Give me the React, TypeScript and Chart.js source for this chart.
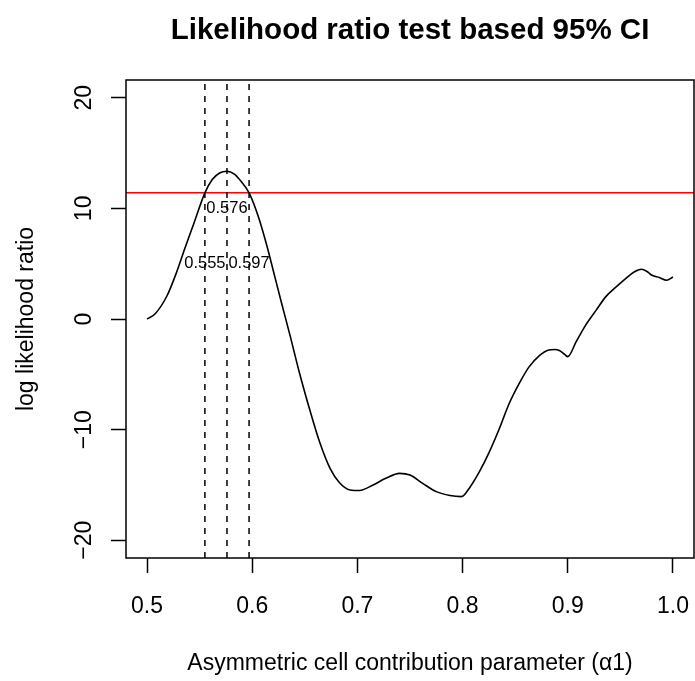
import React, { useEffect, useRef } from "react";
import { Chart, registerables } from "chart.js";

Chart.register(...registerables);

const FONT = '"Liberation Sans", Arial, Helvetica, sans-serif';

// Profile of the log likelihood ratio over alpha1
const alphaValues = [
  0.5, 0.508, 0.519, 0.528, 0.536, 0.544, 0.555, 0.562, 0.569, 0.576, 0.583, 0.588,
  0.597, 0.606, 0.614, 0.621, 0.628, 0.636, 0.645, 0.655, 0.664, 0.674, 0.683, 0.693,
  0.702, 0.715, 0.727, 0.74, 0.75, 0.762, 0.775, 0.788, 0.799, 0.807, 0.816, 0.825,
  0.835, 0.844, 0.854, 0.863, 0.873, 0.882, 0.888, 0.892, 0.897, 0.9, 0.908, 0.917,
  0.927, 0.936, 0.946, 0.955, 0.963, 0.97, 0.976, 0.98, 0.987, 0.994, 1.0,
];
const llrValues = [
  0.0, 0.5, 2.1, 4.2, 6.4, 8.5, 11.4, 12.6, 13.2, 13.35, 13.1, 12.6,
  11.4, 9.2, 6.6, 4.0, 1.4, -1.5, -4.9, -8.3, -11.1, -13.5, -14.8, -15.45,
  -15.5, -15.0, -14.4, -13.95, -14.1, -14.85, -15.6, -15.95, -16.05, -15.2, -13.8, -12.1,
  -9.9, -7.7, -5.8, -4.35, -3.3, -2.8, -2.75, -2.85, -3.2, -3.4, -2.05, -0.55,
  0.8, 2.0, 2.9, 3.65, 4.25, 4.5, 4.25, 3.95, 3.75, 3.5, 3.8,
];

const ciBounds = [0.555, 0.576, 0.597];
const ciLabels = ["0.555", "0.576", "0.597"];
const ciLabelY = [5, 10, 5];
const cutoff = 11.41;

const xTicks = [0.5, 0.6, 0.7, 0.8, 0.9, 1.0];
const yTicks = [-20, -10, 0, 10, 20];
const xRange = [0.48, 1.02];
const yRange = [-21.6, 21.6];

const titleText = "Likelihood ratio test based 95% CI";
const xTitle = "Asymmetric cell contribution parameter (\u03b11)";
const yTitle = "log likelihood ratio";

const ciTextPlugin = {
  id: "ciText",
  afterDatasetsDraw(chart: any) {
    const { ctx, scales } = chart;
    ctx.save();
    ctx.font = `16.5px ${FONT}`;
    ctx.fillStyle = "#000";
    ctx.textAlign = "center";
    ctx.textBaseline = "middle";
    ciBounds.forEach((v, i) => {
      ctx.fillText(ciLabels[i], scales.x.getPixelForValue(v), scales.y.getPixelForValue(ciLabelY[i]));
    });
    ctx.restore();
  },
};

const boxPlugin = {
  id: "plotBox",
  afterDraw(chart: any) {
    const { ctx, chartArea: a } = chart;
    ctx.save();
    ctx.strokeStyle = "#000";
    ctx.lineWidth = 1.5;
    ctx.strokeRect(a.left, a.top, a.right - a.left, a.bottom - a.top);
    ctx.restore();
  },
};

export default function App() {
  const ref = useRef<HTMLCanvasElement | null>(null);

  useEffect(() => {
    document.documentElement.style.overflow = "hidden";
    document.body.style.overflow = "hidden";
    document.body.style.margin = "0";
    if (!ref.current) return;
    const curve = alphaValues.map((x, i) => ({ x, y: llrValues[i] }));
    const vLines = ciBounds.map((b) => ({
      type: "scatter" as const,
      data: [
        { x: b, y: yRange[0] },
        { x: b, y: yRange[1] },
      ],
      showLine: true,
      borderColor: "#000",
      borderWidth: 1.5,
      borderDash: [6, 6],
      pointRadius: 0,
    }));

    const chart = new Chart(ref.current, {
      type: "scatter",
      data: {
        datasets: [
          {
            data: curve,
            showLine: true,
            borderColor: "#000",
            borderWidth: 1.6,
            pointRadius: 0,
            cubicInterpolationMode: "monotone",
          } as any,
          ...vLines,
          {
            data: [
              { x: xRange[0], y: cutoff },
              { x: xRange[1], y: cutoff },
            ],
            showLine: true,
            borderColor: "#ff0000",
            borderWidth: 1.5,
            pointRadius: 0,
          },
        ],
      },
      options: {
        animation: false,
        responsive: false,
        devicePixelRatio: 1,
        layout: { padding: { left: 0, right: 1, top: 0, bottom: 0 } },
        plugins: {
          legend: { display: false },
          tooltip: { enabled: false },
          title: {
            display: true,
            text: titleText,
            fullSize: false,
            color: "#000",
            font: { family: FONT, size: 29.5, weight: "bold", lineHeight: 1.2 },
            padding: { top: 13, bottom: 31.6 },
          },
        },
        scales: {
          x: {
            type: "linear",
            min: xRange[0],
            max: xRange[1],
            afterBuildTicks: (s: any) => {
              s.ticks = xTicks.map((v) => ({ value: v }));
            },
            afterFit: (s: any) => {
              s.height = 123;
              s.paddingLeft = 0;
              s.paddingRight = 0;
            },
            border: { display: false },
            grid: {
              drawOnChartArea: false,
              drawTicks: true,
              tickLength: 15,
              tickColor: "#000",
              tickWidth: 1.5,
            },
            ticks: {
              autoSkip: false,
              maxRotation: 0,
              padding: 20,
              color: "#000",
              font: { family: FONT, size: 23 },
              callback: (v: any) => Number(v).toFixed(1),
            },
            title: {
              display: true,
              text: xTitle,
              color: "#000",
              font: { family: FONT, size: 23, lineHeight: 1.2 },
              padding: { top: 0, bottom: 4 },
            },
          },
          y: {
            type: "linear",
            min: yRange[0],
            max: yRange[1],
            afterBuildTicks: (s: any) => {
              s.ticks = yTicks.map((v) => ({ value: v }));
            },
            afterFit: (s: any) => {
              s.width = 126;
              s.paddingTop = 0;
              s.paddingBottom = 0;
            },
            border: { display: false },
            grid: {
              drawOnChartArea: false,
              drawTicks: true,
              tickLength: 15,
              tickColor: "#000",
              tickWidth: 1.5,
            },
            ticks: {
              autoSkip: false,
              minRotation: 90,
              maxRotation: 90,
              crossAlign: "center",
              padding: 7,
              color: "#000",
              font: { family: FONT, size: 23 },
              callback: (v: any) => (Number(v) < 0 ? "\u2212" + Math.abs(Number(v)) : String(v)),
            },
            title: {
              display: true,
              text: yTitle,
              color: "#000",
              font: { family: FONT, size: 23, lineHeight: 1.2 },
              padding: { top: 13, bottom: 0 },
            },
          },
        },
      },
      plugins: [ciTextPlugin, boxPlugin],
    } as any);

    return () => chart.destroy();
  }, []);

  return (
    <div style={{ position: "fixed", left: 0, top: 0, width: 695, height: 681, overflow: "hidden", background: "#fff" }}>
      <canvas ref={ref} width={695} height={681} style={{ display: "block", width: 695, height: 681 }} />
    </div>
  );
}
